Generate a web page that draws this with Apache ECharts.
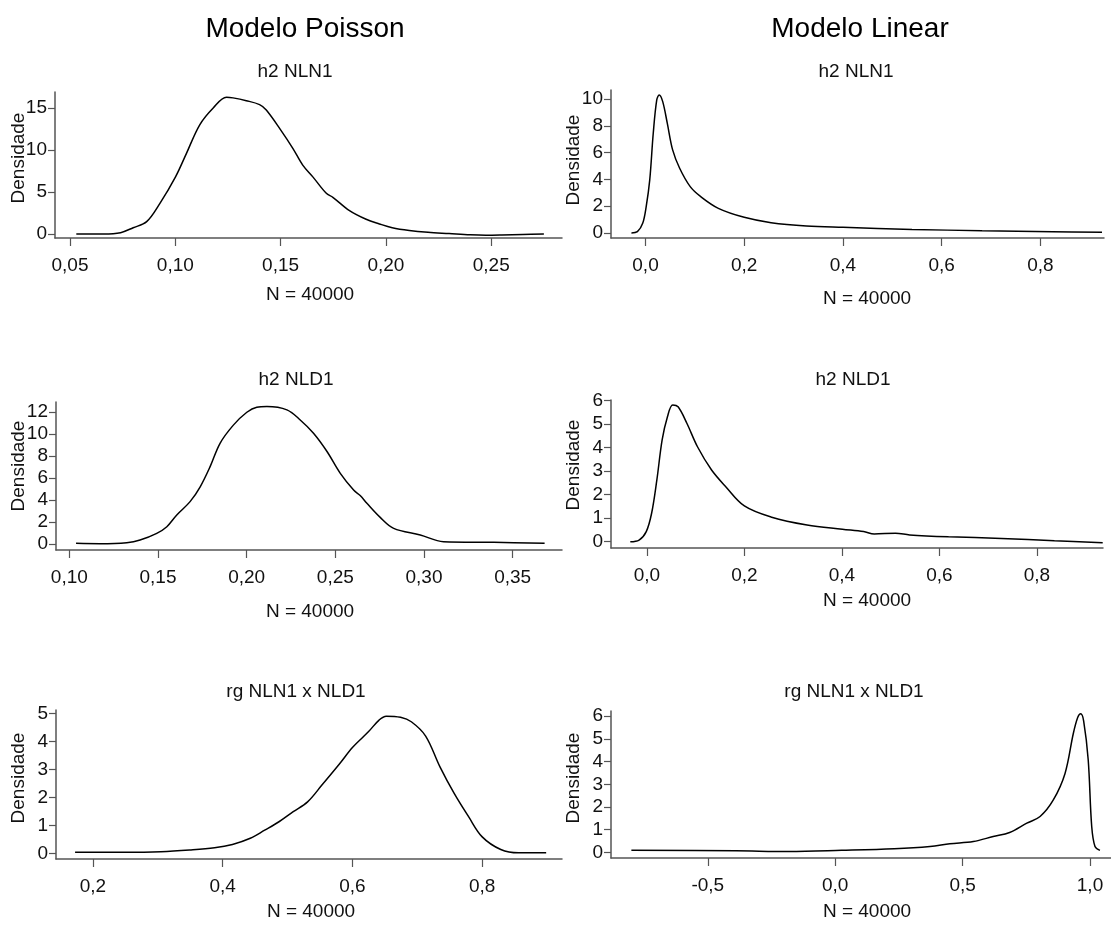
<!DOCTYPE html>
<html><head><meta charset="utf-8">
<script src="https://cdn.jsdelivr.net/npm/echarts@6/dist/echarts.min.js"></script>
<style>html,body{margin:0;padding:0;background:#fff}#c{width:1111px;height:929px}</style>
</head><body><div id="c"></div>
<script>
// ---- data ----
const colTitles = ['Modelo Poisson', 'Modelo Linear'];
const panelTitles = ['h2 NLN1', 'h2 NLN1', 'h2 NLD1', 'h2 NLD1', 'rg NLN1 x NLD1', 'rg NLN1 x NLD1'];
const nLabel = 'N = 40000';
const yName = 'Densidade';

const p1X = [0.053, 0.066, 0.074, 0.080, 0.0864, 0.0927, 0.1001, 0.1053, 0.1116, 0.118, 0.1243, 0.1274, 0.1337, 0.140, 0.1432, 0.15, 0.1558, 0.1605, 0.1653, 0.1717, 0.1748, 0.1827, 0.1906, 0.1969, 0.2030, 0.2111, 0.220, 0.230, 0.240, 0.2475, 0.255, 0.265, 0.275];
const p1Y = [0.0, 0.0, 0.16, 0.75, 1.47, 3.65, 6.8, 9.6, 13.0, 15.0, 16.27, 16.2, 15.87, 15.4, 14.76, 12.4, 10.2, 8.2, 6.8, 4.84, 4.37, 2.78, 1.75, 1.2, 0.75, 0.42, 0.2, 0.05, -0.1, -0.15, -0.12, -0.05, 0.0];

const p2X = [-0.0285, -0.0164, -0.0057, 0.0014, 0.0086, 0.0157, 0.0228, 0.0278, 0.0349, 0.0442, 0.055, 0.0692, 0.0906, 0.112, 0.1476, 0.20, 0.2545, 0.326, 0.40, 0.54, 0.682, 0.825, 0.925];
const p2Y = [0.0, 0.1, 0.72, 1.97, 3.96, 7.44, 9.93, 10.3, 9.8, 8.18, 6.2, 4.83, 3.46, 2.71, 1.84, 1.17, 0.77, 0.52, 0.42, 0.27, 0.17, 0.1, 0.05];

const p3X = [0.1038, 0.1173, 0.1324, 0.1399, 0.1493, 0.155, 0.1606, 0.1681, 0.1738, 0.1794, 0.185, 0.1925, 0.2001, 0.2057, 0.2114, 0.2227, 0.2302, 0.2377, 0.2453, 0.2528, 0.2603, 0.264, 0.2678, 0.2753, 0.2829, 0.2979, 0.311, 0.3393, 0.368];
const p3Y = [0.06, 0.03, 0.12, 0.36, 0.97, 1.57, 2.64, 3.85, 5.2, 7.03, 9.15, 10.8, 11.97, 12.42, 12.48, 12.18, 11.27, 10.06, 8.4, 6.42, 4.9, 4.4, 3.7, 2.42, 1.42, 0.82, 0.21, 0.15, 0.06];

const p4X = [-0.034, -0.016, -0.0013, 0.0096, 0.0204, 0.0313, 0.0422, 0.053, 0.064, 0.082, 0.1038, 0.1327, 0.1618, 0.2, 0.256, 0.3285, 0.401, 0.4446, 0.4664, 0.51, 0.539, 0.6187, 0.7274, 0.836, 0.935];
const p4Y = [0.0, 0.07, 0.43, 1.2, 2.62, 4.33, 5.32, 5.82, 5.74, 5.04, 4.04, 3.05, 2.34, 1.52, 1.04, 0.71, 0.53, 0.43, 0.33, 0.36, 0.29, 0.21, 0.14, 0.04, -0.04];

const p5X = [0.1724, 0.2496, 0.3047, 0.3489, 0.3874, 0.415, 0.4425, 0.4647, 0.4867, 0.5087, 0.5308, 0.5529, 0.5805, 0.6003, 0.6245, 0.641, 0.6521, 0.6741, 0.6907, 0.7128, 0.7349, 0.7568, 0.779, 0.80, 0.8286, 0.856, 0.8986];
const p5Y = [0.04, 0.04, 0.06, 0.12, 0.2, 0.32, 0.54, 0.83, 1.13, 1.49, 1.84, 2.44, 3.21, 3.79, 4.34, 4.76, 4.9, 4.86, 4.7, 4.19, 3.09, 2.14, 1.31, 0.59, 0.14, 0.02, 0.02];

const p6X = [-0.80, -0.39, -0.182, 0.025, 0.232, 0.372, 0.45, 0.542, 0.62, 0.6845, 0.752, 0.804, 0.856, 0.902, 0.9345, 0.952, 0.9635, 0.975, 0.993, 1.0067, 1.0196, 1.039];
const p6Y = [0.09, 0.07, 0.04, 0.09, 0.16, 0.26, 0.38, 0.48, 0.7, 0.88, 1.29, 1.58, 2.31, 3.48, 5.24, 5.95, 6.11, 5.8, 4.07, 1.14, 0.26, 0.09];

const xTicks1 = [0.05, 0.10, 0.15, 0.20, 0.25];
const xTicks2 = [0.0, 0.2, 0.4, 0.6, 0.8];
const xTicks3 = [0.10, 0.15, 0.20, 0.25, 0.30, 0.35];
const xTicks4 = [0.0, 0.2, 0.4, 0.6, 0.8];
const xTicks5 = [0.2, 0.4, 0.6, 0.8];
const xTicks6 = [-0.5, 0.0, 0.5, 1.0];
const yTicks1 = [0, 5, 10, 15];
const yTicks2 = [0, 2, 4, 6, 8, 10];
const yTicks3 = [0, 2, 4, 6, 8, 10, 12];
const yTicks4 = [0, 1, 2, 3, 4, 5, 6];
const yTicks5 = [0, 1, 2, 3, 4, 5];
const yTicks6 = [0, 1, 2, 3, 4, 5, 6];

// ---- layout ----
const FONT = "'Liberation Sans', Arial, Helvetica, sans-serif";
const AXC = '#555';
const FS = 19;
const panels = [
  {xs: p1X, ys: p1Y, xt: xTicks1, yt: yTicks1, dec: 2, grid: {left: 55, top: 92, width: 507, height: 146}, xr: [0.04288, 0.2836], yr: [-0.476, 16.9], title: [295, 72], n: [310, 295], dn: [19, 158]},
  {xs: p2X, ys: p2Y, xt: xTicks2, yt: yTicks2, dec: 1, grid: {left: 611, top: 90, width: 493, height: 148}, xr: [-0.0699, 0.929], yr: [-0.373, 10.67], title: [856, 72], n: [867, 299], dn: [574, 160]},
  {xs: p3X, ys: p3Y, xt: xTicks3, yt: yTicks3, dec: 2, grid: {left: 56, top: 402, width: 506, height: 148}, xr: [0.0925, 0.3778], yr: [-0.545, 12.9], title: [296, 380], n: [310, 612], dn: [19, 466]},
  {xs: p4X, ys: p4Y, xt: xTicks4, yt: yTicks4, dec: 1, grid: {left: 611, top: 400, width: 492, height: 148}, xr: [-0.0736, 0.9356], yr: [-0.268, 6.03], title: [853, 380], n: [867, 601], dn: [574, 465]},
  {xs: p5X, ys: p5Y, xt: xTicks5, yt: yTicks5, dec: 1, grid: {left: 56, top: 710, width: 506, height: 149}, xr: [0.143, 0.923], yr: [-0.2, 5.12], title: [296, 692], n: [311, 912], dn: [19, 778]},
  {xs: p6X, ys: p6Y, xt: xTicks6, yt: yTicks6, dec: 1, grid: {left: 611, top: 711, width: 500, height: 147}, xr: [-0.88, 1.0824], yr: [-0.246, 6.23], title: [854, 692], n: [867, 912], dn: [574, 778]}
];
const colPos = [[305, 29], [860, 29]];

const fmt = (v, d) => v.toFixed(d).replace('.', ',');

const grids = [], xAxes = [], yAxes = [], series = [], graphics = [];
panels.forEach((p, i) => {
  grids.push(Object.assign({containLabel: false}, p.grid));
  xAxes.push({
    type: 'value', gridIndex: i, min: p.xr[0], max: p.xr[1],
    axisLine: {show: true, onZero: false, lineStyle: {color: AXC, width: 1.5}},
    axisTick: {show: true, length: 8, customValues: p.xt, lineStyle: {color: AXC, width: 1.2}},
    axisLabel: {customValues: p.xt, margin: 18, color: '#111', fontSize: FS, fontFamily: FONT,
      formatter: v => fmt(v, p.dec)},
    splitLine: {show: false}
  });
  yAxes.push({
    type: 'value', gridIndex: i, min: p.yr[0], max: p.yr[1],
    axisLine: {show: true, onZero: false, lineStyle: {color: AXC, width: 1.5}},
    axisTick: {show: true, length: 7, customValues: p.yt, lineStyle: {color: AXC, width: 1.2}},
    axisLabel: {customValues: p.yt, margin: 8, color: '#111', fontSize: FS, fontFamily: FONT,
      formatter: v => String(Math.round(v))},
    splitLine: {show: false}
  });
  series.push({
    type: 'line', xAxisIndex: i, yAxisIndex: i, showSymbol: false, smooth: 0.35,
    lineStyle: {color: '#000', width: 1.5}, silent: true,
    data: p.xs.map((x, k) => [x, p.ys[k]])
  });
  const txt = (t, x, y, size, rot) => ({
    type: 'text', x: x, y: y, rotation: rot || 0, silent: true,
    style: {text: t, x: 0, y: 0, fill: '#111', font: size + 'px ' + FONT,
      textAlign: 'center', textVerticalAlign: 'middle', align: 'center', verticalAlign: 'middle'}
  });
  graphics.push(txt(panelTitles[i], p.title[0], p.title[1], FS));
  graphics.push(txt(nLabel, p.n[0], p.n[1], FS));
  graphics.push(txt(yName, p.dn[0], p.dn[1], FS, Math.PI / 2));
});
colTitles.forEach((t, i) => {
  graphics.push({type: 'text', x: colPos[i][0], y: colPos[i][1], silent: true,
    style: {text: t, x: 0, y: 0, fill: '#000', font: '28px ' + FONT,
      textAlign: 'center', textVerticalAlign: 'middle', align: 'center', verticalAlign: 'middle'}});
});

const chart = echarts.init(document.getElementById('c'), null, {renderer: 'canvas'});
chart.setOption({
  animation: false,
  backgroundColor: '#fff',
  grid: grids, xAxis: xAxes, yAxis: yAxes, series: series, graphic: graphics
});
</script></body></html>
